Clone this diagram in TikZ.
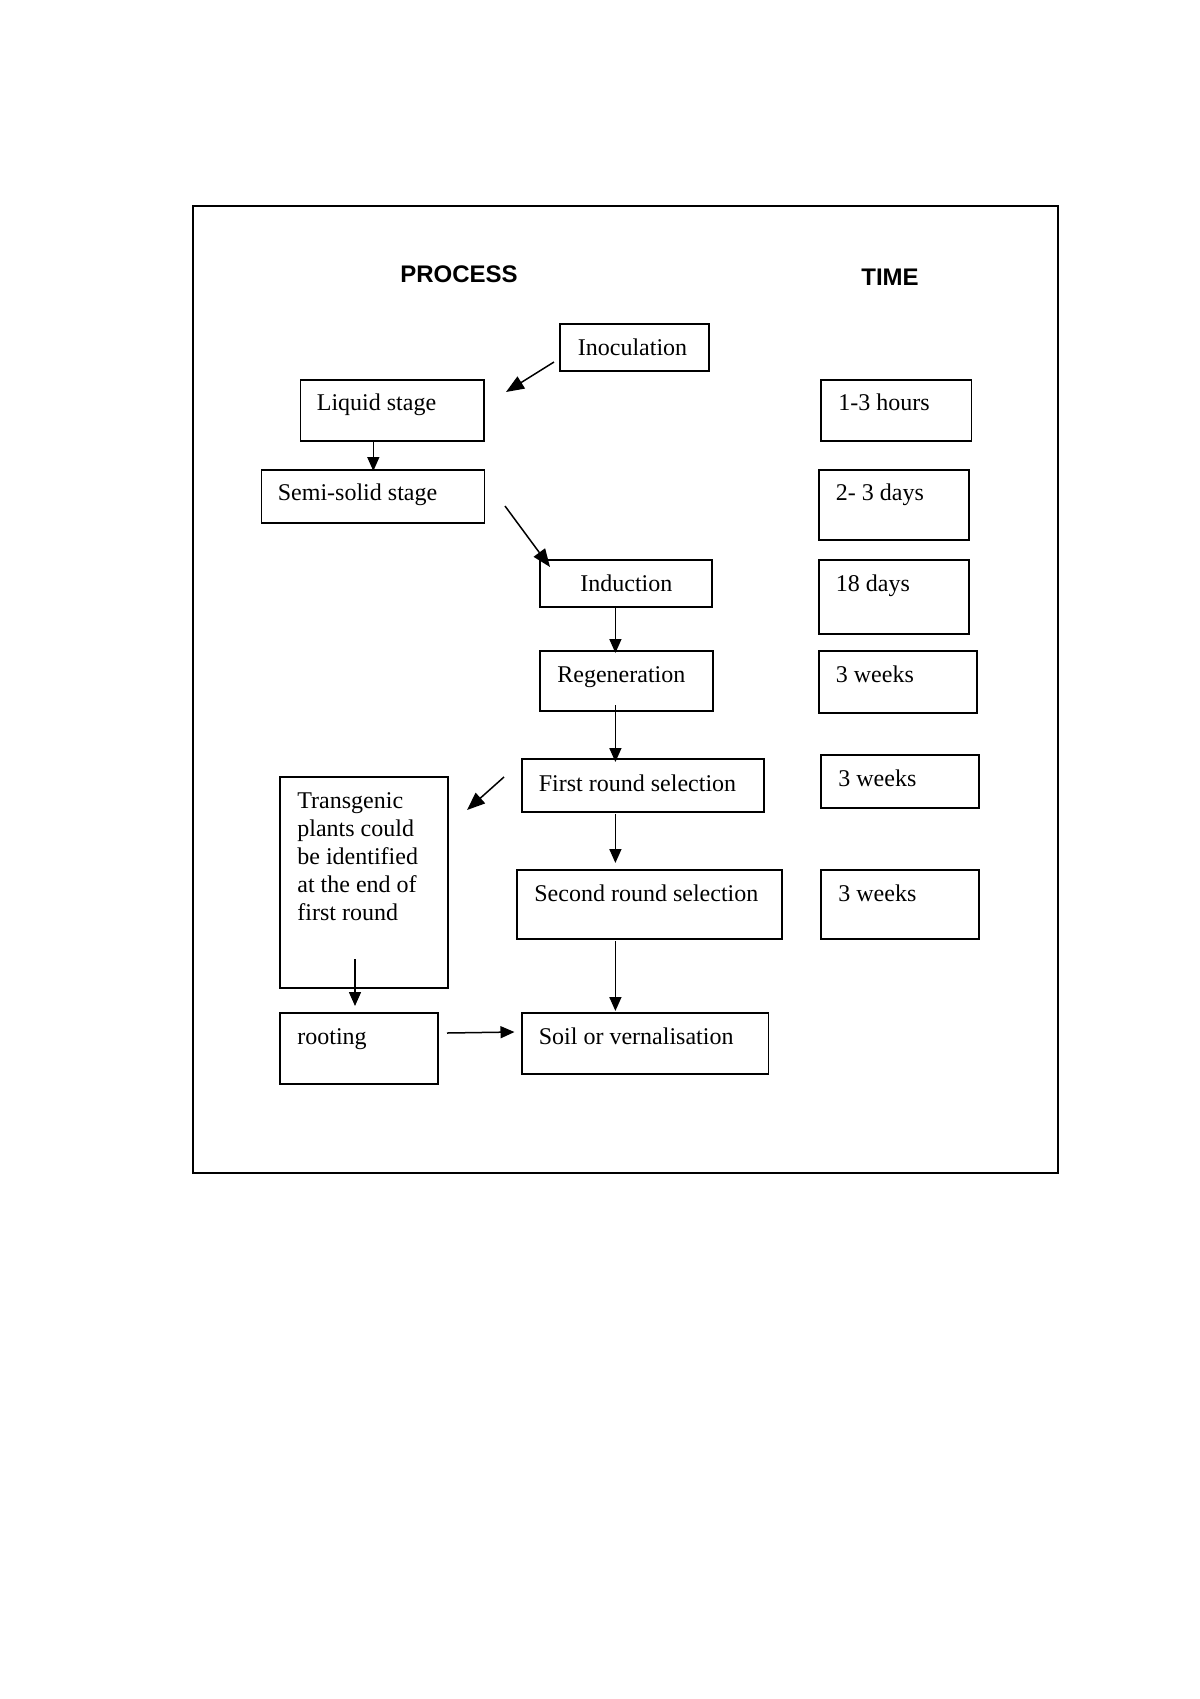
\documentclass[tikz,border=0pt]{standalone}
\usepackage{fontspec}
\setmainfont{Liberation Serif}
\newfontfamily\headfont{Liberation Sans}
\usetikzlibrary{arrows.meta,fit}
\begin{document}
\begin{tikzpicture}[x=0.5pt,y=-0.5pt,
  box/.style={draw, line width=0.75pt, inner sep=0pt, fit={#1}},
  txt/.style={anchor=base west, inner sep=0pt, font=\fontsize{12}{14}\selectfont},
  head/.style={inner sep=0pt, font=\headfont\bfseries\fontsize{12}{14}\selectfont},
  arr/.style={line width=0.75pt, -{Triangle[length=7pt,width=6pt]}},
  darr/.style={line width=0.75pt, -{Triangle[length=9pt,width=7pt]}}]
\useasboundingbox (0,0) rectangle (1200,1699);
\fill[white] (0,0) rectangle (1200,1699);
% outer frame
\node[box={(193,206) (1058,1173)}] (frame) {};
% headings
\node[head] (hp) at (459,274) {PROCESS};
\node[head] (ht) at (890,277) {TIME};
% process boxes
\node[box={(560,324) (709,371)}] (inoc) {};
\node[box={(300.5,380) (484,441)}] (liq) {};
\node[box={(261.5,470) (484.5,523)}] (semi) {};
\node[box={(540,560) (712,607)}] (ind) {};
\node[box={(540,651) (713,711)}] (reg) {};
\node[box={(522,759) (764,812)}] (first) {};
\node[box={(280,777) (448,988)}] (trans) {};
\node[box={(517,870) (782,939)}] (second) {};
\node[box={(522,1013) (768.5,1074)}] (soil) {};
\node[box={(280,1013) (438,1084)}] (root) {};
% time boxes
\node[box={(821,380) (971.5,441)}] (t1) {};
\node[box={(819,470) (969,540)}] (t2) {};
\node[box={(819,560) (969,634)}] (t3) {};
\node[box={(819,651) (977,713)}] (t4) {};
\node[box={(821,755) (979,808)}] (t5) {};
\node[box={(821,870) (979,939)}] (t6) {};
% texts
\node[txt] (inocT) at (577.5,355) {Inoculation};
\node[txt] (liqT) at (316.5,410) {Liquid stage};
\node[txt] (semiT) at (277.5,500) {Semi-solid stage};
\node[txt] (indT) at (580,591) {Induction};
\node[txt] (regT) at (557,682) {Regeneration};
\node[txt] (firstT) at (538.5,791) {First round selection};
\node[txt] (secondT) at (534,901) {Second round selection};
\node[txt] (soilT) at (538.5,1044) {Soil or vernalisation};
\node[txt] (rootT) at (297,1044) {rooting};
\node[txt, anchor=north west, align=left] (transT) at (297,792)
  {Transgenic\\plants could\\be identified\\at the end of\\first round};
\node[txt] (t1T) at (838,410) {1-3 hours};
\node[txt] (t2T) at (835.5,500) {2- 3 days};
\node[txt] (t3T) at (835.5,591) {18 days};
\node[txt] (t4T) at (835.5,682) {3 weeks};
\node[txt] (t5T) at (838,786) {3 weeks};
\node[txt] (t6T) at (838,901) {3 weeks};
% arrow end points
\coordinate (a1s) at (554,362);  \coordinate (a1e) at (506,392);
\coordinate (a2s) at (373.3,441); \coordinate (a2e) at (373.3,471);
\coordinate (a3s) at (505,506);  \coordinate (a3e) at (550,567);
\coordinate (a4s) at (615.4,607);  \coordinate (a4e) at (615.4,653);
\coordinate (a5s) at (615.4,705);  \coordinate (a5e) at (615.4,762);
\coordinate (a6s) at (504,777);  \coordinate (a6e) at (467,810);
\coordinate (a7s) at (615.4,814);  \coordinate (a7e) at (615.4,863);
\coordinate (a8s) at (615.4,941);  \coordinate (a8e) at (615.4,1011);
\coordinate (a9s) at (355,959);  \coordinate (a9e) at (355,1006);
\coordinate (a10s) at (447,1033); \coordinate (a10e) at (514.5,1032);
% connectors
\draw[darr] (a1s) -- (a1e);
\draw[arr] (a2s) -- (a2e);
\draw[darr] (a3s) -- (a3e);
\draw[arr] (a4s) -- (a4e);
\draw[arr] (a5s) -- (a5e);
\draw[darr] (a6s) -- (a6e);
\draw[arr] (a7s) -- (a7e);
\draw[arr] (a8s) -- (a8e);
\draw[arr] (a9s) -- (a9e);
\draw[arr] (a10s) -- (a10e);
\end{tikzpicture}
\end{document}
